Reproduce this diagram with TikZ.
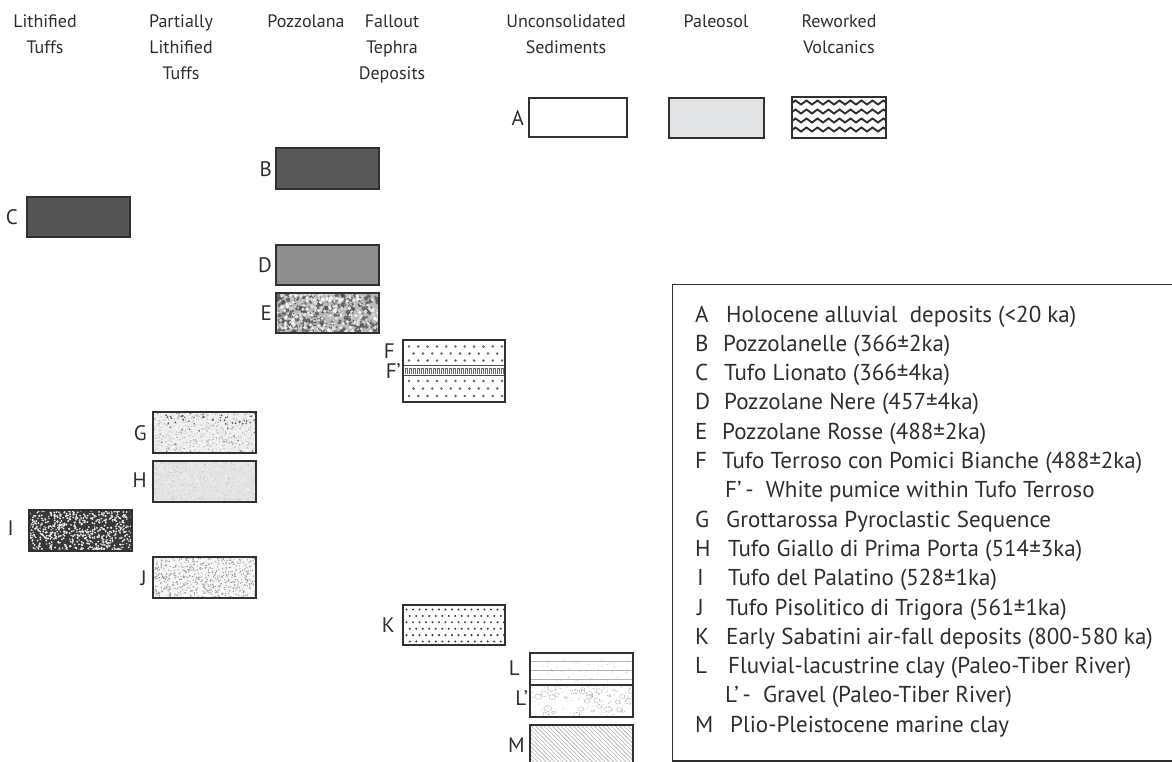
\documentclass[tikz,border=0pt]{standalone}
\usepackage{fontspec}
\setmainfont{PT Sans}
\usetikzlibrary{calc}
\definecolor{txt}{HTML}{2E2E2E}
\definecolor{rimc}{HTML}{303030}
\definecolor{darkfill}{HTML}{585858}
\definecolor{midfill}{HTML}{8E8E8E}
\definecolor{paleofill}{HTML}{E2E3E5}
\newcommand\speckle[7]{%
  \foreach \i in {1,...,#5}{%
    \pgfmathsetmacro\spx{#1+rnd*#3}%
    \pgfmathsetmacro\spy{#2+rnd*#4}%
    \fill[#6] (\spx,\spy) circle[radius=#7pt];}}
\tikzset{
  hdr/.style={font=\fontsize{18}{26}\selectfont, text=txt, align=center, anchor=north, inner sep=0pt},
  lbl/.style={font=\fontsize{21}{24}\selectfont, text=txt, anchor=base east, inner sep=0pt},
  leg/.style={font=\fontsize{23}{28}\selectfont, text=txt, anchor=base west, inner sep=0pt},
  layer/.style={draw=rimc, line width=1.8pt, inner sep=0pt, outer sep=0pt, anchor=north west},
  rim/.style={draw=rimc, line width=1.8pt},
}
\begin{document}
\begin{tikzpicture}[x=1pt,y=-1pt]
\useasboundingbox (0,0) rectangle (1172,761);
\fill[white] (0,0) rectangle (1172,761);
\pgfmathsetseed{7}
% headers
\node[hdr] (h1) at (45,15) {Lithified\\Tuffs};
\node[hdr] (h2) at (181,15) {Partially\\Lithified\\Tuffs};
\node[hdr] (h3) at (306,15) {Pozzolana};
\node[hdr] (h4) at (392,15) {Fallout\\Tephra\\Deposits};
\node[hdr] (h5) at (566,15) {Unconsolidated\\Sediments};
\node[hdr] (h6) at (716,15) {Paleosol};
\node[hdr] (h7) at (839,15) {Reworked\\Volcanics};

% A
\node[layer, fill=white, minimum width=98pt, minimum height=39pt] (A) at (529,98) {};
\node[lbl] (lA) at (524,125) {A};
% Paleosol
\node[layer, fill=paleofill, minimum width=95pt, minimum height=40pt] (P) at (669,98) {};
% Reworked volcanics
\node[layer, fill=white, minimum width=94pt, minimum height=41pt] (R) at (792,97) {};
\begin{scope}
\clip (R.north west) rectangle (R.south east);
\foreach \yy in {104.5,113.5,122.5,131.5}{
  \draw[rimc, line width=1.9pt, line join=miter] (790,\yy) \foreach \k in {0,...,9}{ -- ++(5.5,-4) -- ++(5.5,4)};
}
\end{scope}
\draw[rim] (R.north west) rectangle (R.south east);

% B, C, D
\node[layer, fill=darkfill, minimum width=103pt, minimum height=41pt] (B) at (276,148) {};
\node[lbl] (lB) at (272,176) {B};
\node[layer, fill=darkfill!95!black, minimum width=103pt, minimum height=40pt] (C) at (27,197) {};
\node[lbl] (lC) at (18,224.5) {C};
\node[layer, fill=midfill, minimum width=103pt, minimum height=40pt] (D) at (276,245) {};
\node[lbl] (lD) at (272,272.5) {D};

% E mottled
\node[layer, fill=gray!55, minimum width=103pt, minimum height=40pt] (E) at (276,293) {};
\begin{scope}
\clip (E.north west) rectangle (E.south east);
\speckle{276}{293}{103}{40}{150}{black!70,opacity=0.7}{2.2}
\speckle{276}{293}{103}{40}{170}{white,opacity=0.75}{1.8}
\speckle{276}{293}{103}{40}{160}{gray!30,opacity=0.8}{1.2}
\speckle{276}{293}{103}{40}{120}{black!60}{0.9}
\end{scope}
\draw[rim] (E.north west) rectangle (E.south east);
\node[lbl] (lE) at (272,320.5) {E};

% F with F' band
\node[layer, fill=white, minimum width=102pt, minimum height=62pt] (F) at (403,340) {};
\begin{scope}
\clip (F.north west) rectangle (F.south east);
\foreach \r/\yy in {0/346.5,1/353.5,2/360.5,0/381,1/388.5,2/396}{
  \foreach \c in {0,...,10}{
    \fill[black!60] ({409+\c*9.3+mod(\r,2)*4.6},\yy) circle[radius=1.4pt];
  }
}
\fill[white] (403,365) rectangle (505,375);
\draw[black!70, line width=1pt] (403,365) -- (505,365) (403,375) -- (505,375);
\foreach \k in {0,...,24}{
  \draw[black!60, line width=0.7pt] ({405+\k*4},374) -- ({405+\k*4},368.5) -- ({407.5+\k*4},368.5) -- ({407.5+\k*4},374);
}
\end{scope}
\draw[rim] (F.north west) rectangle (F.south east);
\node[lbl] (lF) at (395,358) {F};
\node[lbl] (lF2) at (401,378) {F’};

% G
\node[layer, fill=gray!14, minimum width=103pt, minimum height=41pt] (G) at (153,412) {};
\begin{scope}
\clip (G.north west) rectangle (G.south east);
\speckle{153}{412}{103}{41}{420}{gray!60}{0.65}
\speckle{153}{412}{103}{41}{150}{white}{0.9}
\speckle{153}{412}{103}{12}{30}{black!65}{1.0}
\speckle{153}{412}{103}{41}{30}{black!55}{0.9}
\end{scope}
\draw[rim] (G.north west) rectangle (G.south east);
\node[lbl] (lG) at (147,440) {G};

% H
\node[layer, fill=gray!22, minimum width=103pt, minimum height=41pt] (H) at (153,461) {};
\begin{scope}
\clip (H.north west) rectangle (H.south east);
\speckle{153}{461}{103}{41}{260}{white!90!gray}{0.8}
\speckle{153}{461}{103}{41}{240}{gray!45}{0.55}
\end{scope}
\draw[rim] (H.north west) rectangle (H.south east);
\node[lbl] (lH) at (147,487) {H};

% I
\node[layer, fill=black!78, minimum width=103pt, minimum height=41pt] (I) at (29,510) {};
\begin{scope}
\clip (I.north west) rectangle (I.south east);
\speckle{29}{510}{103}{41}{520}{white!85!gray}{1.0}
\speckle{29}{510}{103}{41}{160}{gray!45}{0.9}
\end{scope}
\draw[rim] (I.north west) rectangle (I.south east);
\node[lbl] (lI) at (14,535) {I};

% J
\node[layer, fill=gray!8, minimum width=103pt, minimum height=41pt] (J) at (153,557) {};
\begin{scope}
\clip (J.north west) rectangle (J.south east);
\speckle{153}{557}{103}{41}{650}{gray!80}{0.7}
\speckle{153}{557}{103}{41}{160}{white}{1.0}
\end{scope}
\draw[rim] (J.north west) rectangle (J.south east);
\node[lbl] (lJ) at (147,585) {J};

% K
\node[layer, fill=white, minimum width=102pt, minimum height=40pt] (K) at (403,605) {};
\begin{scope}
\clip (K.north west) rectangle (K.south east);
\foreach \r in {0,...,5}{
  \foreach \c in {0,...,15}{
    \fill[black!75] ({406.5+\c*6.5+mod(\r,2)*3.25},{609.5+\r*6.4}) circle[radius=1.15pt];
  }
}
\end{scope}
\draw[rim] (K.north west) rectangle (K.south east);
\node[lbl] (lK) at (395,632) {K};

% L and L'
\node[layer, fill=white, minimum width=103pt, minimum height=32pt] (L) at (530,653) {};
\begin{scope}
\clip (L.north west) rectangle (L.south east);
\draw[gray!60, line width=0.8pt] (530,661) -- (633,661) (530,670) -- (633,670) (530,679) -- (633,679);
\speckle{530}{658}{103}{24}{60}{gray!50}{0.5}
\end{scope}
\draw[rim] (L.north west) rectangle (L.south east);
\node[lbl] (lL) at (520,675) {L};
\node[layer, fill=white, minimum width=103pt, minimum height=32pt] (L2) at (530,685) {};
\begin{scope}
\clip (L2.north west) rectangle (L2.south east);
\foreach \i in {1,...,30}{
  \pgfmathsetmacro\gx{530+rnd*103}
  \pgfmathsetmacro\gy{687+rnd*28}
  \pgfmathsetmacro\gr{1.2+rnd*2}
  \draw[gray!65, line width=0.5pt, dashed, dash pattern=on 2pt off 1pt] (\gx,\gy) circle[x radius=\gr pt*1.3, y radius=\gr pt];
}
\speckle{530}{685}{103}{32}{140}{gray!55}{0.45}
\end{scope}
\draw[rim] (L2.north west) rectangle (L2.south east);
\node[lbl] (lL2) at (528,705) {L’};

% M
\node[layer, fill=white, minimum width=103pt, minimum height=45pt] (M) at (530,725) {};
\begin{scope}
\clip (M.north west) rectangle (M.south east);
\foreach \k in {0,...,40}{
  \draw[gray!60, line width=0.6pt] ({480+\k*4.2},725) -- ++(45,45);
}
\end{scope}
\draw[rim] (M.north west) rectangle (M.south east);
\node[lbl] (lM) at (525,752) {M};

% legend box
\node[draw=rimc, line width=1.8pt, inner sep=0pt, anchor=north west, minimum width=520pt, minimum height=476.5pt] (legend) at (671.5,283.5) {};
\node[leg] (kA) at (695,322) {A};   \node[leg] (tA) at (726,322) {Holocene alluvial\ \ deposits (<20 ka)};
\node[leg] (kB) at (695,351.3) {B}; \node[leg] (tB) at (723,351.3) {Pozzolanelle (366±2ka)};
\node[leg] (kC) at (695,380.6) {C}; \node[leg] (tC) at (724,380.6) {Tufo Lionato (366±4ka)};
\node[leg] (kD) at (695,409.9) {D}; \node[leg] (tD) at (724,409.9) {Pozzolane Nere (457±4ka)};
\node[leg] (kE) at (695,439.2) {E}; \node[leg] (tE) at (722,439.2) {Pozzolane Rosse (488±2ka)};
\node[leg] (kF) at (695,468.5) {F}; \node[leg] (tF) at (722,468.5) {Tufo Terroso con Pomici Bianche (488±2ka)};
\node[leg] (tF2) at (725,497.8) {F’\,-\ \ White pumice within Tufo Terroso};
\node[leg] (kG) at (695,527.1) {G}; \node[leg] (tG) at (726,527.1) {Grottarossa Pyroclastic Sequence};
\node[leg] (kH) at (695,556.4) {H}; \node[leg] (tH) at (728,556.4) {Tufo Giallo di Prima Porta (514±3ka)};
\node[leg] (kI) at (697,585.7) {I}; \node[leg] (tI) at (728,585.7) {Tufo del Palatino (528±1ka)};
\node[leg] (kJ) at (697,615) {J};   \node[leg] (tJ) at (726,615) {Tufo Pisolitico di Trigora (561±1ka)};
\node[leg] (kK) at (695,644.3) {K}; \node[leg] (tK) at (726,644.3) {Early Sabatini air-fall deposits (800-580 ka)};
\node[leg] (kL) at (695,673.6) {L}; \node[leg] (tL) at (728,673.6) {Fluvial-lacustrine clay (Paleo-Tiber River)};
\node[leg] (tL2) at (725,702.9) {L’\,-\ \ Gravel (Paleo-Tiber River)};
\node[leg] (kM) at (695,732.2) {M}; \node[leg] (tM) at (730,732.2) {Plio-Pleistocene marine clay};
\end{tikzpicture}
\end{document}
